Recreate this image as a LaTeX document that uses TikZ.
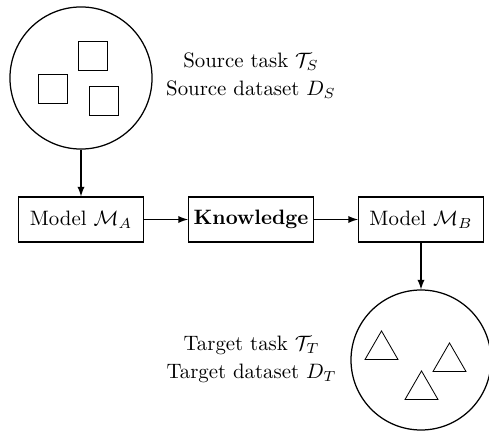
\documentclass[tikz,border=0pt]{standalone}
\usepackage{tikz}
\usetikzlibrary{positioning, arrows.meta, shapes.geometric}
\tikzstyle{block}=[draw,fill=white,rectangle,inner xsep=2pt,minimum width=60pt,minimum height=21.6pt]
\tikzstyle{pool}=[draw,circle,inner sep=0pt]
\tikzstyle{sample}=[draw,rectangle,thin,inner sep=0pt,minimum size=13.9pt]
\tikzstyle{tri}=[draw,regular polygon,regular polygon sides=3,thin,inner sep=0pt,minimum size=18.3pt]
\tikzstyle{info}=[align=center]

\begin{document}
\begin{tikzpicture}[>=latex, x=0.48pt, y=-0.48pt, semithick]
    \useasboundingbox (0,0) rectangle (489,432);
    % source side
    \node[pool, minimum size=68.2pt] (source) at (81,78) {};
    \node[sample] (s1) at (92.5,55.5) {};
    \node[sample] (s2) at (52.5,89) {};
    \node[sample] (s3) at (103.5,100.5) {};
    \node[info] (srcinfo) at (251,76) {Source task $\mathcal{T}_S$\\[1.5pt]Source dataset $D_S$};
    % models
    \node[block] (modelA) at (81,219.5) {Model $\mathcal{M}_A$};
    \node[block] (know) at (251,219.5) {\textbf{Knowledge}};
    \node[block] (modelB) at (421,219.5) {Model $\mathcal{M}_B$};
    % target side
    \node[pool, minimum size=67.2pt] (target) at (421,360) {};
    \node[tri] (t1) at (381.5,350) {};
    \node[tri] (t2) at (449.5,362) {};
    \node[tri] (t3) at (421.5,390) {};
    \node[info] (tgtinfo) at (251.5,359) {Target task $\mathcal{T}_T$\\[1.5pt]Target dataset $D_T$};
    \draw[->] (source) -- (modelA);
    \draw[->] (modelA) -- (know);
    \draw[->] (know) -- (modelB);
    \draw[->] (modelB) -- (target);
\end{tikzpicture}
\end{document}
